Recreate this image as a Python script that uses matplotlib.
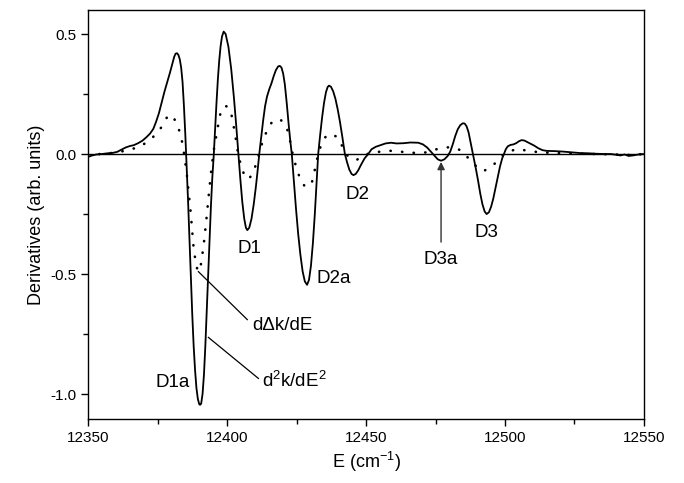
import numpy as np
import matplotlib
matplotlib.use("Agg")
from matplotlib import pyplot as plt
from matplotlib.ticker import MultipleLocator

plt.rcParams['font.family'] = ['Liberation Sans', 'DejaVu Sans']
plt.rcParams['mathtext.fontset'] = 'custom'
plt.rcParams['mathtext.rm'] = 'Liberation Sans'

# d2k/dE2 (solid line)
e_solid = [12350, 12351.5, 12353, 12355, 12357, 12359, 12360.5, 12362, 12363.5, 12365,
           12366.5, 12368, 12369.5, 12371, 12372.3, 12373.5, 12374.5, 12375.5, 12376.5, 12377.5,
           12378.5, 12379.5, 12380.3, 12381.0, 12381.5, 12382.0, 12382.5, 12383.0, 12383.5, 12384.0,
           12384.5, 12385.0, 12385.5, 12386.0, 12386.5, 12387.0, 12387.5, 12388.0, 12388.5, 12389.0,
           12389.5, 12390.0, 12390.3, 12390.7, 12391.2, 12391.7, 12392.2, 12392.7, 12393.2, 12393.7,
           12394.2, 12394.7, 12395.2, 12395.7, 12396.2, 12396.7, 12397.2, 12397.7, 12398.2, 12398.8,
           12399.5, 12400.5, 12401.5, 12402.5, 12403.3, 12404.1, 12404.8, 12405.5, 12406.2, 12406.8,
           12407.3, 12408.0, 12408.8, 12409.6, 12410.4, 12411.0, 12411.6, 12412.3, 12413.0, 12413.7,
           12414.4, 12415.2, 12416.0, 12416.8, 12417.6, 12418.4, 12419.0, 12419.6, 12420.2, 12420.8,
           12421.5, 12422.2, 12422.8, 12423.3, 12424.0, 12424.8, 12425.6, 12426.4, 12427.2, 12428.0,
           12428.8, 12429.5, 12430.2, 12430.9, 12431.6, 12432.2, 12432.8, 12433.5, 12434.2, 12434.9,
           12435.6, 12436.2, 12436.7, 12437.4, 12438.2, 12439.0, 12439.8, 12440.6, 12441.5, 12442.4,
           12443.2, 12444.0, 12444.8, 12445.5, 12446.3, 12447.2, 12448.2, 12449.5, 12450.8, 12452.0,
           12453.5, 12455.0, 12457.0, 12459.0, 12461.0, 12463.5, 12466.0, 12468.8, 12470.5, 12472.0,
           12473.3, 12474.5, 12475.8, 12477.0, 12478.2, 12479.4, 12480.3, 12481.2, 12482.1, 12483.0,
           12483.9, 12484.8, 12485.5, 12486.2, 12486.9, 12487.6, 12488.3, 12488.8, 12489.5, 12490.3,
           12491.1, 12491.9, 12492.7, 12493.4, 12494.2, 12495.0, 12495.8, 12496.6, 12497.4, 12498.2,
           12499.0, 12499.6, 12500.3, 12501.0, 12502.0, 12503.0, 12504.0, 12505.0, 12506.0, 12507.0,
           12508.0, 12509.0, 12510.5, 12512.0, 12513.5, 12515.0, 12518.0, 12521.0, 12524.0, 12527.0,
           12530.0, 12533.0, 12536.0, 12538.0, 12540.0, 12541.5, 12543.0, 12544.5, 12546.0, 12548.0,
           12550.0]
d2k = [-0.012, -0.006, -0.002, 0.0, 0.003, 0.005, 0.009, 0.018, 0.027, 0.033,
       0.037, 0.045, 0.055, 0.07, 0.085, 0.105, 0.135, 0.17, 0.215, 0.26,
       0.3, 0.34, 0.375, 0.405, 0.418, 0.42, 0.413, 0.395, 0.36, 0.30,
       0.20, 0.08, -0.06, -0.20, -0.36, -0.52, -0.67, -0.80, -0.90, -0.975,
       -1.02, -1.042, -1.045, -1.04, -1.0, -0.92, -0.80, -0.66, -0.51, -0.36,
       -0.22, -0.10, -0.01, 0.10, 0.21, 0.31, 0.39, 0.45, 0.49, 0.51,
       0.50, 0.447, 0.355, 0.233, 0.12, 0.0, -0.106, -0.20, -0.27, -0.307,
       -0.317, -0.307, -0.27, -0.21, -0.135, -0.07, 0.0, 0.07, 0.14, 0.20,
       0.24, 0.27, 0.295, 0.325, 0.35, 0.365, 0.367, 0.36, 0.335, 0.29,
       0.21, 0.12, 0.05, 0.0, -0.108, -0.226, -0.333, -0.42, -0.489, -0.531,
       -0.545, -0.524, -0.465, -0.37, -0.247, -0.127, 0.0, 0.079, 0.152, 0.213,
       0.258, 0.279, 0.285, 0.28, 0.261, 0.23, 0.187, 0.136, 0.07, 0.0,
       -0.035, -0.065, -0.083, -0.088, -0.083, -0.068, -0.045, -0.018, 0.0, 0.02,
       0.03, 0.036, 0.044, 0.047, 0.044, 0.045, 0.048, 0.047, 0.04, 0.027,
       0.01, -0.006, -0.022, -0.028, -0.022, -0.008, 0.01, 0.04, 0.075, 0.103,
       0.12, 0.128, 0.127, 0.115, 0.09, 0.05, 0.01, -0.02, -0.06, -0.11,
       -0.165, -0.21, -0.24, -0.25, -0.243, -0.22, -0.185, -0.14, -0.095, -0.052,
       -0.018, 0.0, 0.02, 0.032, 0.038, 0.04, 0.045, 0.053, 0.058, 0.056,
       0.05, 0.044, 0.035, 0.024, 0.016, 0.013, 0.012, 0.01, 0.007, 0.004,
       0.003, 0.001, 0.0, 0.0, -0.003, -0.006, -0.002, -0.008, -0.006, -0.002,
       0.0]

# d(delta k)/dE (dotted line)
e_dot = [12350, 12352, 12356, 12360, 12364.5, 12368.7, 12372.9, 12376.3, 12378.9, 12380.5,
         12381.9, 12383.3, 12384.2, 12384.8, 12385.5, 12386.2, 12386.9, 12387.9, 12388.8, 12389.6,
         12390.6, 12391.6, 12392.6, 12393.6, 12394.5, 12395.3, 12396.3, 12397.4, 12398.5, 12399.5,
         12400.5, 12401.5, 12402.8, 12404, 12405.3, 12406.5, 12407.8, 12409, 12410.4, 12411.5,
         12413, 12414.5, 12416, 12417.9, 12419.5, 12421.5, 12422.6, 12423.6, 12425, 12426.5,
         12428, 12429.5, 12430.5, 12431.5, 12432.8, 12434.2, 12435.9, 12437.5, 12439.5, 12440.8,
         12442.4, 12444, 12446.4, 12448.5, 12450.5, 12453.2, 12458, 12462.2, 12466.4, 12470.6,
         12473, 12475.4, 12479.6, 12482, 12484.4, 12486.2, 12488.4, 12490.3, 12492.2, 12494.3,
         12496.4, 12498.5, 12500.5, 12504.2, 12508.8, 12512.6, 12518, 12525, 12532, 12540,
         12545, 12550]
ddk = [-0.01, -0.004, 0.003, 0.005, 0.017, 0.03, 0.064, 0.11, 0.163, 0.155,
       0.13, 0.08, 0.03, -0.02, -0.08, -0.16, -0.24, -0.38, -0.46, -0.49,
       -0.46, -0.38, -0.27, -0.15, -0.05, 0.02, 0.086, 0.16, 0.195, 0.2,
       0.195, 0.17, 0.09, 0.0, -0.06, -0.095, -0.105, -0.085, -0.045, 0.0,
       0.06, 0.1, 0.13, 0.146, 0.14, 0.11, 0.06, 0.0, -0.06, -0.11,
       -0.135, -0.135, -0.12, -0.07, 0.0, 0.05, 0.079, 0.082, 0.072, 0.05,
       0.005, -0.015, -0.025, -0.015, 0.0, 0.007, 0.014, 0.01, 0.005, 0.005,
       0.01, 0.02, 0.028, 0.025, 0.014, -0.01, -0.035, -0.06, -0.071, -0.06,
       -0.039, -0.012, 0.006, 0.021, 0.0125, 0.007, 0.004, 0.002, 0.0, -0.002,
       -0.004, 0.0]

peak_labels = ['D1a', 'D1', 'D2a', 'D2', 'D3a', 'D3']
peak_x = [12380.6, 12407.9, 12438.5, 12446.8, 12477.0, 12493.5]
peak_y = [-0.954, -0.392, -0.517, -0.167, -0.4375, -0.325]

fig = plt.figure(figsize=(6.84, 4.83), dpi=100)
ax = fig.add_axes([0.1287, 0.1325, 0.8128, 0.8468])

ax.axhline(0, color='black', lw=1.0)
ax.plot(e_solid, d2k, color='black', lw=1.3)
ax.plot(e_dot, ddk, color='black', lw=1.9, linestyle=(0, (0.1, 4.3)), dash_capstyle='round')

ax.set_xlim(12350, 12550)
ax.set_ylim(-1.104, 0.6)
ax.xaxis.set_major_locator(MultipleLocator(50))
ax.xaxis.set_minor_locator(MultipleLocator(25))
ax.yaxis.set_major_locator(MultipleLocator(0.5))
ax.yaxis.set_minor_locator(MultipleLocator(0.25))
ax.yaxis.set_major_formatter(plt.FuncFormatter(lambda v, p: '%.1f' % v))
ax.tick_params(which='major', direction='out', length=5, width=1, labelsize=11)
ax.tick_params(which='minor', direction='out', length=3.5, width=1)
for s in ax.spines.values():
    s.set_linewidth(1.0)

ax.set_xlabel('E (cm$\\mathregular{^{-1}}$)', fontsize=13)
ax.set_ylabel('Derivatives (arb. units)', fontsize=13)

for lab, x, y in zip(peak_labels, peak_x, peak_y):
    ax.text(x, y, lab, fontsize=13.5, ha='center', va='center')

# leader lines for the two curves
ax.plot([12389.7, 12407.3], [-0.49, -0.69], color='black', lw=0.9)
ax.plot([12393.3, 12411.3], [-0.764, -0.935], color='black', lw=0.9)
ax.text(12408.9, -0.733, 'd\u0394k/dE', fontsize=13.5, ha='left', va='baseline')
ax.text(12412.5, -0.97, 'd$\\mathregular{^2}$k/dE$\\mathregular{^2}$', fontsize=13.5,
        ha='left', va='baseline')

ax.annotate('', xy=(12477.0, -0.033), xytext=(12477.0, -0.367),
            arrowprops=dict(arrowstyle='-|>', color='#333333', lw=1.0,
                            mutation_scale=11, shrinkA=0, shrinkB=0))

fig.savefig('out.png', dpi=100)
